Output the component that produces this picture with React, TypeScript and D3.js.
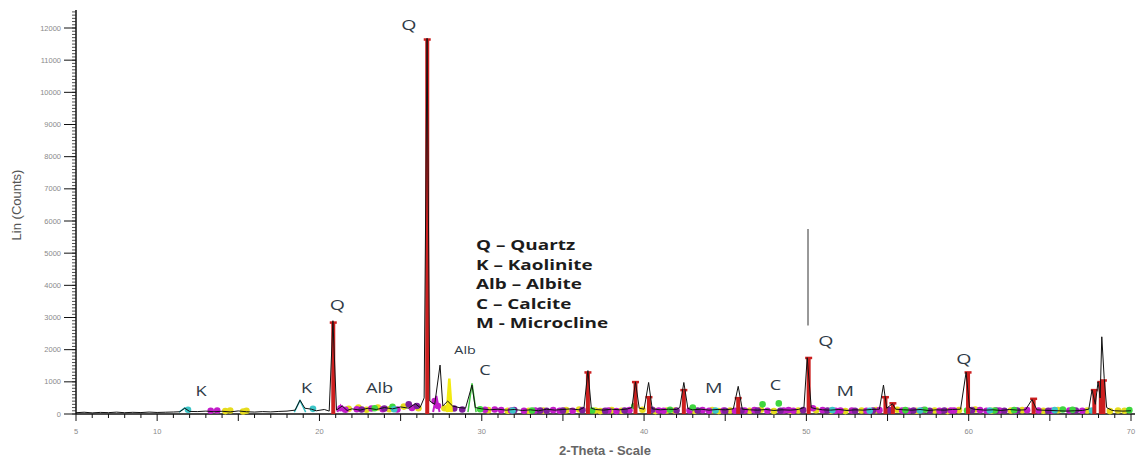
import * as d3 from 'd3';

// measured XRD pattern (2-theta, counts)
const pattern: [number, number][] = [
  [5, 40], [5.5, 55], [6, 35], [6.5, 50], [7, 42], [7.5, 58], [8, 40], [8.5, 52], [9, 45], [9.5, 60],
  [10, 48], [10.5, 55], [11, 62], [11.4, 70], [11.7, 180], [12, 80], [12.5, 75], [13, 90], [13.5, 70],
  [14, 85], [14.5, 65], [15, 95], [15.5, 70], [16, 60], [16.5, 75], [17, 65], [17.5, 80], [18, 90],
  [18.5, 120], [18.8, 430], [19.1, 180], [19.5, 150], [19.8, 100], [20.3, 140], [20.6, 90], [20.83, 2900],
  [21.05, 120], [21.4, 250], [21.7, 110], [22, 160], [22.5, 120], [23, 180], [23.5, 140], [24, 200],
  [24.5, 160], [25, 220], [25.5, 180], [25.9, 320], [26.2, 200], [26.45, 500], [26.63, 11680], [26.8, 400],
  [27.1, 300], [27.43, 1520], [27.6, 250], [27.9, 400], [28.2, 250], [28.6, 200], [29, 180], [29.4, 900],
  [29.6, 200], [30, 160], [30.5, 130], [31, 150], [31.5, 120], [32, 140], [32.5, 110], [33, 130], [33.5, 100],
  [34, 150], [34.5, 120], [35, 140], [35.5, 160], [36, 130], [36.3, 200], [36.54, 1350], [36.75, 180],
  [37, 140], [37.5, 120], [38, 150], [38.5, 130], [39, 160], [39.25, 200], [39.47, 1000], [39.7, 180],
  [40, 150], [40.28, 980], [40.5, 160], [41, 130], [41.5, 150], [42, 140], [42.2, 200], [42.45, 980],
  [42.7, 170], [43, 130], [43.5, 150], [44, 120], [44.5, 140], [45, 130], [45.5, 160], [45.8, 860],
  [46.05, 150], [46.5, 130], [47, 120], [47.5, 140], [48, 110], [48.5, 130], [49, 120], [49.5, 140],
  [49.85, 200], [50.05, 1750], [50.3, 200], [50.6, 160], [51, 130], [51.5, 120], [52, 140], [52.5, 110],
  [53, 130], [53.5, 120], [54, 140], [54.5, 150], [54.75, 900], [54.95, 180], [55.3, 320], [55.5, 150],
  [56, 130], [56.5, 120], [57, 140], [57.5, 110], [58, 130], [58.5, 120], [59, 140], [59.5, 150],
  [59.84, 1300], [60.05, 200], [60.3, 150], [61, 120], [61.5, 130], [62, 110], [62.5, 140], [63, 120],
  [63.5, 130], [63.9, 450], [64.2, 130], [64.5, 120], [65, 110], [65.5, 100], [66, 90], [66.5, 100],
  [67, 110], [67.4, 150], [67.6, 750], [67.8, 300], [67.97, 1000], [68.1, 500], [68.2, 2400], [68.35, 1100],
  [68.5, 200], [68.8, 120], [69, 100], [69.5, 90], [70, 100],
];

// quartz reference sticks (2-theta, counts)
const quartzSticks: [number, number][] = [
  [20.85, 2850], [26.64, 11650], [36.54, 1300], [39.47, 1000], [40.3, 530], [42.45, 750], [45.8, 500],
  [50.14, 1750], [54.87, 530], [55.33, 340], [59.96, 1300], [64.0, 480], [67.74, 750], [68.14, 1000], [68.3, 1050],
];

// stray trace above the 50 deg peak (2-theta, from, to)
const spikes: [number, number, number][] = [[50.1, 2750, 5750]];

// phase profile peaks (2-theta, counts)
const cyanPeaks: [number, number][] = [[11.7, 190], [18.8, 420]];
const yellowPeaks: [number, number][] = [[28.0, 1100]];
const greenPeaks: [number, number][] = [[29.4, 950]];
const magentaPeaks: [number, number][] = [[27.2, 560], [21.3, 260]];

// phase markers along the baseline (2-theta, counts)
const yellowDots: [number, number][] = [
  [14.2, 90], [14.5, 110], [15.3, 80], [15.5, 100], [21.8, 160], [22.4, 200], [22.9, 130], [23.6, 200],
  [24.3, 150], [25.2, 230], [26.1, 180], [27.7, 180], [30.4, 120], [31.6, 100], [32.9, 100], [33.8, 110],
  [35.2, 120], [36.0, 140], [37.0, 110], [37.3, 90], [38.0, 120], [38.6, 100], [39.9, 130], [40.7, 90],
  [41.4, 110], [41.9, 110], [43.1, 100], [44.2, 120], [44.6, 90], [45.3, 110], [46.5, 100], [47.2, 130],
  [48.0, 90], [49.0, 100], [49.5, 110], [50.6, 120], [51.5, 100], [52.4, 90], [53.4, 110], [54.3, 120],
  [55.6, 130], [56.8, 100], [57.9, 110], [58.7, 90], [59.4, 120], [60.4, 140], [61.4, 100], [62.6, 110],
  [63.3, 120], [64.6, 100], [65.5, 120], [67.3, 110], [68.7, 90], [69.2, 110], [69.6, 100],
];
const magentaDots: [number, number][] = [
  [13.3, 100], [13.7, 110], [21.3, 180], [21.6, 130], [22.3, 150], [23.2, 170], [23.9, 150], [24.8, 140],
  [25.7, 190], [27.1, 400], [27.3, 250], [30.2, 130], [30.8, 140], [31.2, 120], [31.8, 110], [32.6, 100],
  [33.3, 110], [34.4, 120], [34.8, 100], [35.6, 100], [37.8, 110], [38.3, 90], [39.1, 120], [40.9, 110],
  [41.2, 100], [42.8, 110], [43.6, 120], [44.0, 100], [44.9, 110], [45.6, 100], [46.2, 110], [46.8, 120],
  [47.6, 100], [48.6, 110], [48.9, 120], [49.2, 100], [50.4, 180], [51.0, 120], [51.8, 100], [52.1, 110],
  [52.8, 110], [53.7, 100], [54.5, 120], [55.9, 110], [56.3, 100], [57.2, 120], [58.2, 100], [58.9, 110],
  [59.1, 110], [60.7, 120], [61.1, 100], [61.9, 110], [62.9, 100], [63.6, 120], [64.3, 110], [65.1, 100],
  [66.2, 110], [67.0, 100],
];
const purpleDots: [number, number][] = [
  [22.6, 140], [24.0, 170], [25.5, 300], [26.0, 250], [28.3, 170], [28.8, 140], [32.0, 120], [33.6, 110],
  [34.0, 100], [35.0, 110], [36.2, 120], [37.6, 100], [38.8, 110], [40.5, 130], [42.0, 110], [43.3, 110],
  [45.0, 100], [46.0, 110], [47.0, 110], [48.4, 100], [49.8, 120], [51.3, 110], [53.0, 100], [54.1, 110],
  [55.1, 120], [56.6, 110], [57.6, 100], [58.5, 110], [60.2, 120], [61.7, 110], [62.2, 100], [63.0, 110],
  [64.9, 100], [66.6, 110],
];
const greenDots: [number, number][] = [
  [23.4, 180], [24.5, 220], [29.9, 150], [33.1, 110], [36.8, 110], [39.4, 250], [41.6, 130], [43.0, 200],
  [47.3, 300], [48.3, 330], [56.1, 120], [57.3, 130], [59.9, 110], [61.6, 110], [62.8, 120], [65.8, 140],
  [66.4, 130], [69.9, 120],
];
const cyanDots: [number, number][] = [
  [11.9, 130], [19.6, 160], [24.6, 150], [31.9, 110], [44.4, 110], [51.6, 120], [53.9, 100], [57.0, 110],
  [61.3, 110], [65.3, 120], [67.6, 110],
];

const yTickValues = [0, 1000, 2000, 3000, 4000, 5000, 6000, 7000, 8000, 9000, 10000, 11000, 12000];
const xTickLabels = [5, 10, 20, 30, 40, 50, 60, 70];

const peakLabels: { text: string; theta: number; counts: number; size: number }[] = [
  { text: 'Q', theta: 25.5, counts: 11950, size: 15 },
  { text: 'Q', theta: 21.1, counts: 3230, size: 15 },
  { text: 'K', theta: 12.7, counts: 560, size: 14 },
  { text: 'K', theta: 19.2, counts: 660, size: 14 },
  { text: 'Alb', theta: 23.7, counts: 640, size: 14 },
  { text: 'Alb', theta: 28.97, counts: 1860, size: 11 },
  { text: 'C', theta: 30.2, counts: 1220, size: 14 },
  { text: 'M', theta: 44.3, counts: 660, size: 15 },
  { text: 'C', theta: 48.1, counts: 760, size: 14 },
  { text: 'Q', theta: 51.2, counts: 2120, size: 15 },
  { text: 'M', theta: 52.4, counts: 560, size: 15 },
  { text: 'Q', theta: 59.7, counts: 1560, size: 15 },
];

const legendItems = ['Q \u2013 Quartz', 'K \u2013 Kaolinite', 'Alb \u2013 Albite', 'C \u2013 Calcite', 'M - Microcline'];

export default function App() {
  const width = 1141;
  const height = 461;

  const x = d3.scaleLinear().domain([5, 70]).range([76, 1131]);
  const y = d3.scaleLinear().domain([0, 12000]).range([414, 28]);

  const line = d3
    .line<[number, number]>()
    .x((d) => x(d[0]))
    .y((d) => y(d[1]));

  // small triangular profile for a phase peak
  const peakPath = (p: [number, number], hw: number) =>
    line([
      [p[0] - hw, 60],
      [p[0], p[1]],
      [p[0] + hw, 60],
    ]) as string;

  const minorY = d3.range(0, 12600, 100);
  const minorX = d3.range(5, 70.01, 1);

  const dotGroups: [string, [number, number][]][] = [
    ['#e6dc1e', yellowDots],
    ['#c21cc9', magentaDots],
    ['#7e1f9c', purpleDots],
    ['#3fd63f', greenDots],
    ['#3cc6c8', cyanDots],
  ];

  return (
    <svg
      width={width}
      height={height}
      style={{ position: 'absolute', left: 0, top: 0, background: '#fff' }}
      fontFamily="Arial, 'Liberation Sans', sans-serif"
    >
      {/* y axis */}
      <line x1={76} x2={76} y1={y(0)} y2={y(12560)} stroke="#111" strokeWidth={1.5} />
      {minorY.map((v) => (
        <line key={'my' + v} x1={72} x2={76} y1={y(v)} y2={y(v)} stroke="#222" strokeWidth={0.8} />
      ))}
      {yTickValues.map((v) => (
        <g key={'yt' + v}>
          <line x1={64} x2={76} y1={y(v)} y2={y(v)} stroke="#111" strokeWidth={1} />
          <text x={61} y={y(v)} dy="0.35em" textAnchor="end" fontSize={7.5} fill="#8a8a8a">
            {v}
          </text>
        </g>
      ))}
      <text
        transform={`translate(21, 205) rotate(-90)`}
        textAnchor="middle"
        fontSize={13}
        fill="#555"
      >
        Lin (Counts)
      </text>

      {/* x axis */}
      <line x1={76} x2={1135} y1={y(0)} y2={y(0)} stroke="#111" strokeWidth={1.5} />
      {minorX.map((v) => (
        <line
          key={'mx' + v}
          x1={x(v)}
          x2={x(v)}
          y1={y(0)}
          y2={y(0) + (Math.round(v) % 5 === 0 ? 7 : 4)}
          stroke="#111"
          strokeWidth={1}
        />
      ))}
      {xTickLabels.map((v) => (
        <text key={'xt' + v} x={x(v)} y={434} textAnchor="middle" fontSize={7.5} fill="#8a8a8a">
          {v}
        </text>
      ))}
      <text x={605} y={455} textAnchor="middle" fontSize={13} fontWeight="bold" fill="#666">
        2-Theta - Scale
      </text>

      {/* baseline phase markers */}
      {dotGroups.map(([color, dots]) =>
        dots.map((d, i) => <circle key={color + i} cx={x(d[0])} cy={y(d[1])} r={3.3} fill={color} />)
      )}

      {/* phase profiles */}
      {cyanPeaks.map((p, i) => (
        <path key={'c' + i} d={peakPath(p, 0.35)} fill="none" stroke="#35c0c4" strokeWidth={1.5} />
      ))}
      {magentaPeaks.map((p, i) => (
        <path key={'m' + i} d={peakPath(p, 0.2)} fill="none" stroke="#c21cc9" strokeWidth={2} />
      ))}
      {yellowPeaks.map((p, i) => (
        <path key={'y' + i} d={peakPath(p, 0.15)} fill="#f2ea10" stroke="#f2ea10" strokeWidth={2.5} />
      ))}
      {greenPeaks.map((p, i) => (
        <path key={'g' + i} d={peakPath(p, 0.25)} fill="none" stroke="#3fc63f" strokeWidth={1.5} />
      ))}

      {/* quartz sticks */}
      {quartzSticks.map(([t, c], i) => (
        <g key={'q' + i}>
          <rect x={x(t) - 2} y={y(c)} width={4} height={y(0) - y(c)} fill="#cc1f1f" />
          <rect x={x(t) - 3.5} y={y(c) - 1} width={7} height={2.5} fill="#cc1f1f" />
        </g>
      ))}

      {/* measured pattern */}
      <path d={line(pattern) as string} fill="none" stroke="#111" strokeWidth={1} />
      {spikes.map(([t, a, b], i) => (
        <line key={'s' + i} x1={x(t)} x2={x(t)} y1={y(a)} y2={y(b)} stroke="#777" strokeWidth={1.5} />
      ))}

      {/* peak labels */}
      {peakLabels.map((l, i) => (
        <text
          key={'pl' + i}
          transform={`translate(${x(l.theta)}, ${y(l.counts)}) scale(1.3, 1)`}
          textAnchor="middle"
          fontSize={l.size}
          fill="#2f3a46"
          fontFamily="'Open Sans', sans-serif"
        >
          {l.text}
        </text>
      ))}

      {/* legend */}
      {legendItems.map((t, i) => (
        <text
          key={'lg' + i}
          transform={`translate(476, ${250 + i * 19.5}) scale(1.35, 1)`}
          fontSize={14}
          fontWeight="bold"
          fill="#1c1c1c"
          fontFamily="'Open Sans', sans-serif"
        >
          {t}
        </text>
      ))}
    </svg>
  );
}
